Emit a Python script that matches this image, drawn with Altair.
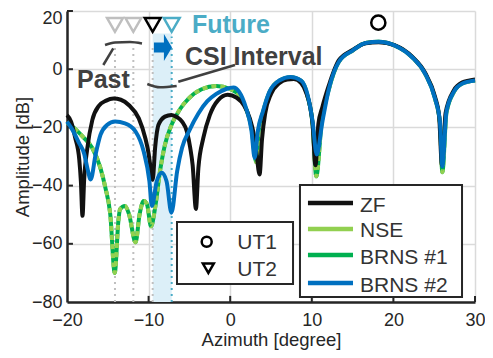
import altair as alt
import pandas as pd

# ---------------- data ----------------
zf = [(-20.0, -15.8), (-19.5, -18.0), (-19.0, -23.5), (-18.5, -31.0), (-18.3, -38.5), (-18.1, -50.4),
      (-17.9, -38.0), (-17.5, -27.0), (-16.9, -17.5), (-16.1, -12.6), (-15.2, -10.8), (-14.3, -10.1),
      (-13.4, -10.5), (-12.4, -12.4), (-11.2, -16.9), (-10.4, -23.7), (-10.0, -29.0), (-9.8, -33.0),
      (-9.5, -38.0), (-9.2, -27.0), (-8.8, -19.2), (-8.0, -16.3), (-7.2, -15.7), (-6.5, -16.5),
      (-5.9, -18.0), (-5.3, -21.5), (-4.9, -27.0), (-4.6, -33.0), (-4.2, -48.0), (-3.9, -34.0),
      (-3.3, -23.7), (-2.5, -15.8), (-1.5, -10.7), (-0.3, -8.8), (0.8, -9.8), (1.7, -12.5),
      (2.4, -16.9), (2.9, -22.5), (3.2, -28.3), (3.6, -36.2), (3.9, -24.0), (4.3, -15.0),
      (5.0, -8.5), (6.0, -4.8), (7.0, -3.5), (7.8, -3.4), (8.7, -4.8), (9.3, -8.0), (9.8, -13.0),
      (10.1, -19.0), (10.45, -33.0), (10.8, -19.0), (11.3, -13.0), (12.1, -5.5), (13.3, 3.0),
      (15.0, 6.6), (16.6, 8.9), (18.2, 9.3), (20.2, 8.2), (22.3, 4.3), (23.9, -1.3), (25.1, -9.5),
      (25.6, -16.0), (25.95, -33.0), (26.4, -15.0), (27.4, -7.3), (28.4, -4.6), (30.0, -3.5)]

brns2 = [(-20.0, -18.0), (-19.4, -20.5), (-18.5, -25.5), (-17.9, -29.0), (-17.5, -34.0), (-17.1, -37.9),
         (-16.5, -29.4), (-15.9, -22.6), (-15.1, -19.2), (-14.1, -18.0), (-12.9, -18.6), (-11.6, -21.4),
         (-10.6, -28.3), (-9.9, -38.5), (-9.6, -47.0), (-9.0, -38.5), (-8.4, -35.6), (-7.8, -38.5),
         (-7.2, -49.3), (-6.5, -35.0), (-5.9, -27.0), (-5.0, -21.0), (-3.9, -15.2), (-2.8, -11.0),
         (-1.7, -8.5), (-0.5, -6.8), (0.4, -6.3), (1.1, -7.8), (1.9, -13.0), (2.6, -21.0), (3.0, -30.5),
         (3.4, -21.0), (4.0, -14.6), (4.8, -7.8), (6.0, -3.9), (7.4, -2.7), (8.7, -3.9), (9.5, -9.0),
         (10.1, -18.0), (10.6, -29.3), (11.3, -18.0), (12.1, -6.7), (13.3, 2.5), (15.0, 6.4),
         (16.6, 9.0), (18.2, 9.4), (20.2, 8.1), (22.3, 4.1), (23.9, -1.6), (25.1, -10.1), (25.7, -18.0),
         (26.0, -33.4), (26.5, -14.6), (27.4, -7.8), (28.4, -5.0), (30.0, -3.9)]

brns1 = [(-20.0, -18.3), (-19.0, -20.5), (-18.1, -23.1), (-16.9, -27.1), (-15.9, -34.0), (-15.3, -40.7),
         (-14.7, -49.8), (-14.15, -70.0), (-13.7, -52.0), (-13.5, -48.1), (-12.9, -47.0), (-12.4, -49.8),
         (-11.6, -59.5), (-11.1, -49.8), (-10.6, -45.3), (-10.2, -46.4), (-9.7, -54.0), (-9.2, -47.6),
         (-8.6, -35.0), (-8.0, -26.0), (-7.2, -19.2), (-6.1, -13.5), (-5.1, -10.1), (-3.5, -6.9),
         (-1.7, -5.8), (0.0, -6.8), (1.1, -9.0), (2.0, -14.0), (2.6, -20.0), (3.2, -32.0), (3.5, -21.0),
         (4.0, -15.0), (4.8, -8.0), (6.0, -4.0), (7.4, -2.8), (8.7, -4.0), (9.5, -9.5), (10.1, -19.0),
         (10.55, -36.8), (11.2, -18.5), (12.1, -6.8), (13.3, 2.5), (15.0, 6.4), (16.6, 9.0), (18.2, 9.4),
         (20.2, 8.1), (22.3, 4.1), (23.9, -1.6), (25.1, -10.1), (25.7, -18.5), (26.0, -35.4),
         (26.5, -15.0), (27.4, -7.9), (28.4, -5.0), (30.0, -3.9)]

nse = list(brns1)

x_ticks = [-20, -10, 0, 10, 20, 30]
y_ticks = [-80, -60, -40, -20, 0, 20]

# user-terminal markers / interval annotation (data units)
ut2_x = [-14.12, -11.87, -9.5, -7.17]
ut2_colors = ["#BFBFBF", "#BFBFBF", "#000000", "#4BACC6"]
ut2_y = 15.2
line_tops = [7.7, 7.7, 7.7, 11.2]
line_colors = ["#BFBFBF", "#BFBFBF", "#BFBFBF", "#4BACC6"]
ut1_x, ut1_y = 18.15, 16.0

legend_names = ["ZF", "NSE", "BRNS #1", "BRNS #2"]
legend_colors = ["#111111", "#92D050", "#00B050", "#0070C0"]

# ---------------- helpers ----------------
XS = alt.Scale(domain=[-20, 30], nice=False, zero=False)
YS = alt.Scale(domain=[-80, 20], nice=False, zero=False)
FONT = "Liberation Sans"
xaxis = alt.Axis(values=x_ticks, title="Azimuth [degree]", grid=True, gridColor="#DADADA", gridWidth=1.5,
                 ticks=False, domainColor="#262626", domainWidth=2.5, labelFont=FONT, labelFontSize=18,
                 labelColor="#262626", labelPadding=9, labelFlush=False, titleFont=FONT, titleFontSize=18.5,
                 titleFontWeight="normal", titleColor="#262626", titlePadding=1)
yaxis = alt.Axis(values=y_ticks, title="Amplitude [dB]", grid=True, gridColor="#DADADA", gridWidth=1.5,
                 ticks=False, domainColor="#262626", domainWidth=2.5, labelFont=FONT, labelFontSize=18,
                 labelColor="#262626", labelPadding=5, labelFlush=False, titleFont=FONT, titleFontSize=18.5,
                 titleFontWeight="normal", titleColor="#262626", titlePadding=-1,
                 labelOffset={"condition": {"test": "datum.value == 20", "value": 7}, "value": 0})


def X(f="x"):
    return alt.X(f + ":Q", scale=XS, axis=xaxis)


def Y(f="y"):
    return alt.Y(f + ":Q", scale=YS, axis=yaxis)


def pts(lst):
    return pd.DataFrame({"x": [p[0] for p in lst], "y": [p[1] for p in lst]})


layers = []

# shaded CSI interval band
band = pd.DataFrame({"x": [ut2_x[2]], "x2": [ut2_x[3]], "y": [-80], "y2": [12.3]})
layers.append(alt.Chart(band).mark_rect(color="#DCEFF8").encode(x=X(), x2="x2:Q", y=Y(), y2="y2:Q"))

# dotted vertical lines
dl = pd.DataFrame({"x": ut2_x, "y": [-80] * 4, "y2": line_tops, "c": line_colors})
layers.append(alt.Chart(dl).mark_rule(strokeWidth=2, strokeDash=[2, 4]).encode(
    x=X(), y=Y(), y2="y2:Q", color=alt.Color("c:N", scale=None)))

# inward ticks
xt = pd.DataFrame({"x": x_ticks[1:], "y": [-80] * 5, "y2": [-77.9] * 5})
layers.append(alt.Chart(xt).mark_rule(strokeWidth=2, color="#262626").encode(x=X(), y=Y(), y2="y2:Q"))
yt = pd.DataFrame({"x": [-20] * 5, "x2": [-19.27] * 5, "y": y_ticks[1:]})
layers.append(alt.Chart(yt).mark_rule(strokeWidth=2, color="#262626").encode(x=X(), x2="x2:Q", y=Y()))

# curves
layers.append(alt.Chart(pts(brns1)).mark_line(color="#00B050", strokeWidth=4, interpolate="monotone").encode(x=X(), y=Y()))
layers.append(alt.Chart(pts(nse)).mark_line(color="#92D050", strokeWidth=4, strokeDash=[5, 4], interpolate="monotone").encode(x=X(), y=Y()))
layers.append(alt.Chart(pts(zf)).mark_line(color="#111111", strokeWidth=4, interpolate="monotone").encode(x=X(), y=Y()))
layers.append(alt.Chart(pts(brns2)).mark_line(color="#0070C0", strokeWidth=4, interpolate="monotone").encode(x=X(), y=Y()))

# UT markers at the top
tri = pd.DataFrame({"x": ut2_x, "y": [ut2_y] * 4, "c": ut2_colors})
layers.append(alt.Chart(tri).mark_point(shape="triangle-down", size=250, strokeWidth=2.5, filled=False, opacity=1).encode(
    x=X(), y=Y(), color=alt.Color("c:N", scale=None)))
circ = pd.DataFrame({"x": [ut1_x], "y": [ut1_y]})
layers.append(alt.Chart(circ).mark_point(shape="circle", size=200, strokeWidth=2.5, color="#000000", opacity=1).encode(x=X(), y=Y()))

# arrow
arr = pd.DataFrame({"x": [-8.30], "y": [7.46]})
layers.append(alt.Chart(arr).mark_point(
    shape="M -0.59 -0.35 L 0.1 -0.35 L 0.1 -0.93 L 0.655 0 L 0.1 0.93 L 0.1 0.35 L -0.59 0.35 Z",
    size=841, filled=True, color="#0070C0", opacity=1, strokeWidth=0).encode(x=X(), y=Y()))

# annotation strokes
ann = pd.DataFrame({
    "x": [-15.34, -14.12, -12.28, -10.81, -14.33, -15.55, -10.16, -8.60, -6.56, -6.36, 0.59],
    "y": [8.32, 9.18, 9.35, 8.83, 7.18, 1.44, -5.09, -6.22, -5.77, -4.30, 1.44],
    "g": ["a", "a", "a", "a", "b", "b", "c", "c", "c", "d", "d"],
    "o": list(range(11)),
})
layers.append(alt.Chart(ann).mark_line(color="#404040", strokeWidth=2.5, interpolate="monotone").encode(
    x=X(), y=Y(), detail="g:N", order="o:Q"))

# annotation texts
txt = pd.DataFrame({"x": [-4.68, -5.54, -18.77], "y": [12.3, 1.44, -6.56],
                    "t": ["Future", "CSI Interval", "Past"], "c": ["#4BACC6", "#404040", "#404040"]})
layers.append(alt.Chart(txt).mark_text(font=FONT, fontSize=25, fontWeight="bold", align="left", baseline="alphabetic").encode(
    x=X(), y=Y(), text="t:N", color=alt.Color("c:N", scale=None)))

# legend 1 (UT1 / UT2)
lb1 = pd.DataFrame({"x": [-6.52], "x2": [7.70], "y": [-52.5], "y2": [-73.8]})
layers.append(alt.Chart(lb1).mark_rect(fill="white", stroke="#262626", strokeWidth=2).encode(x=X(), x2="x2:Q", y=Y(), y2="y2:Q"))
layers.append(alt.Chart(pd.DataFrame({"x": [-2.88], "y": [-59.3]})).mark_point(
    shape="circle", size=100, strokeWidth=2.5, color="#000000", opacity=1).encode(x=X(), y=Y()))
layers.append(alt.Chart(pd.DataFrame({"x": [-2.68], "y": [-68.4]})).mark_point(
    shape="triangle-down", size=120, strokeWidth=2.5, color="#000000", opacity=1).encode(x=X(), y=Y()))
l1t = pd.DataFrame({"x": [0.87, 0.87], "y": [-61.9, -70.96], "t": ["UT1", "UT2"]})
layers.append(alt.Chart(l1t).mark_text(font=FONT, fontSize=21, align="left", baseline="alphabetic", color="#333333").encode(
    x=X(), y=Y(), text="t:N"))

# legend 2 (methods)
lb2 = pd.DataFrame({"x": [8.55], "x2": [28.41], "y": [-39.8], "y2": [-78.3]})
layers.append(alt.Chart(lb2).mark_rect(fill="white", stroke="#262626", strokeWidth=2).encode(x=X(), x2="x2:Q", y=Y(), y2="y2:Q"))
row_y = [-46.0, -54.9, -63.85, -73.5]
text_y = [-48.97, -57.77, -66.94, -76.46]
l2l = pd.DataFrame({"x": [9.53] * 4, "x2": [15.05] * 4, "y": row_y, "c": legend_colors})
layers.append(alt.Chart(l2l).mark_rule(strokeWidth=4.5).encode(x=X(), x2="x2:Q", y=Y(), color=alt.Color("c:N", scale=None)))
l2t = pd.DataFrame({"x": [15.91] * 4, "y": text_y, "t": legend_names})
layers.append(alt.Chart(l2t).mark_text(font=FONT, fontSize=21, align="left", baseline="alphabetic", color="#333333").encode(
    x=X(), y=Y(), text="t:N"))

chart = alt.layer(*layers).properties(
    width=408, height=291, autosize="none",
    padding={"left": 59, "top": 3, "right": 10, "bottom": 48},
).configure_view(strokeWidth=0)

chart.save("out.html", embed_options={"renderer": "svg", "actions": False})
